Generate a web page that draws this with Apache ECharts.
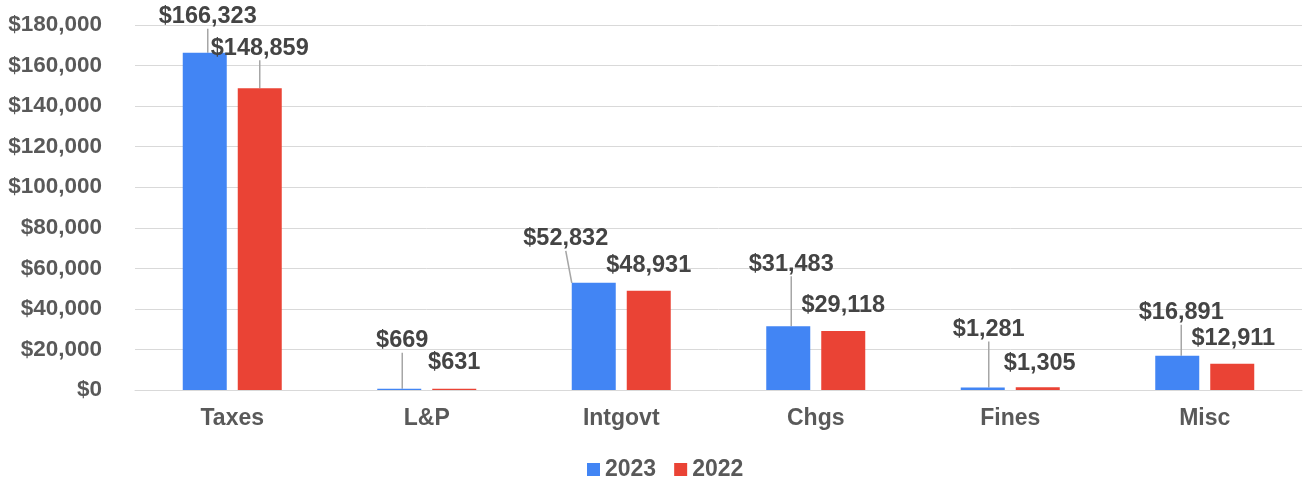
<!DOCTYPE html>
<html><head><meta charset="utf-8">
<script src="https://cdn.jsdelivr.net/npm/echarts@6/dist/echarts.min.js"></script>
<style>html,body{margin:0;padding:0;background:#fff}#c{width:1307px;height:483px}</style>
</head><body><div id="c"></div>
<script>
const categories = ['Taxes','L&P','Intgovt','Chgs','Fines','Misc'];
const values2023 = [166323, 669, 52832, 31483, 1281, 16891];
const values2022 = [148859, 631, 48931, 29118, 1305, 12911];
// label offsets (style only)
const off2023 = [[3,-19],[3,-31],[-28,-27],[3,-45],[6,-41],[4,-26]];
const off2022 = [[0,-23],[0,-9],[0,-8],[0,-8],[2,-7],[1,-8]];
const line2023 = [true,true,true,true,true,true];
const line2022 = [true,false,false,false,false,false];

const fmt = v => '$' + v.toLocaleString('en-US');
const FONT = '"Liberation Sans", Arial, sans-serif';

function mkData(vals, lines){
  return vals.map((v,i)=>({value:v, labelLine:{show:lines[i]}}));
}

const chart = echarts.init(document.getElementById('c'), null, {renderer:'canvas'});
chart.setOption({
  animation:false,
  textStyle:{fontFamily:FONT},
  grid:{left:135, right:5, top:25, bottom:93, containLabel:false},
  legend:{
    top:453, left:582, itemWidth:13, itemHeight:13, itemGap:18,
    icon:'rect',
    textStyle:{fontSize:23, fontWeight:'bold', color:'#595959', fontFamily:FONT},
    data:['2023','2022']
  },
  xAxis:{
    type:'category', data:categories,
    axisLine:{show:true, lineStyle:{color:'#d9d9d9', width:1}},
    axisTick:{show:false},
    axisLabel:{fontSize:23, fontWeight:'bold', color:'#595959', margin:17, fontFamily:FONT}
  },
  yAxis:{
    type:'value', min:0, max:180000, interval:20000,
    axisLine:{show:false}, axisTick:{show:false},
    splitLine:{lineStyle:{color:'#d9d9d9', width:1}},
    axisLabel:{fontSize:22.5, fontWeight:'bold', color:'#595959', margin:33, formatter:v=>fmt(v), fontFamily:FONT}
  },
  series:[
    {
      name:'2023', type:'bar', data:mkData(values2023,line2023),
      barWidth:44, barGap:'25%',
      itemStyle:{color:'#4285f4'},
      label:{show:true, position:'top', formatter:p=>fmt(p.value), fontSize:23.5, fontWeight:'bold', color:'#444444', fontFamily:FONT},
      labelLine:{show:true, lineStyle:{color:'#a6a6a6', width:1.5}},
      labelLayout:p=>({dx:off2023[p.dataIndex][0], dy:off2023[p.dataIndex][1]})
    },
    {
      name:'2022', type:'bar', data:mkData(values2022,line2022),
      barWidth:44,
      itemStyle:{color:'#ea4335'},
      label:{show:true, position:'top', formatter:p=>fmt(p.value), fontSize:23.5, fontWeight:'bold', color:'#444444', fontFamily:FONT},
      labelLine:{show:true, lineStyle:{color:'#a6a6a6', width:1.5}},
      labelLayout:p=>({dx:off2022[p.dataIndex][0], dy:off2022[p.dataIndex][1]})
    }
  ]
});
</script></body></html>
